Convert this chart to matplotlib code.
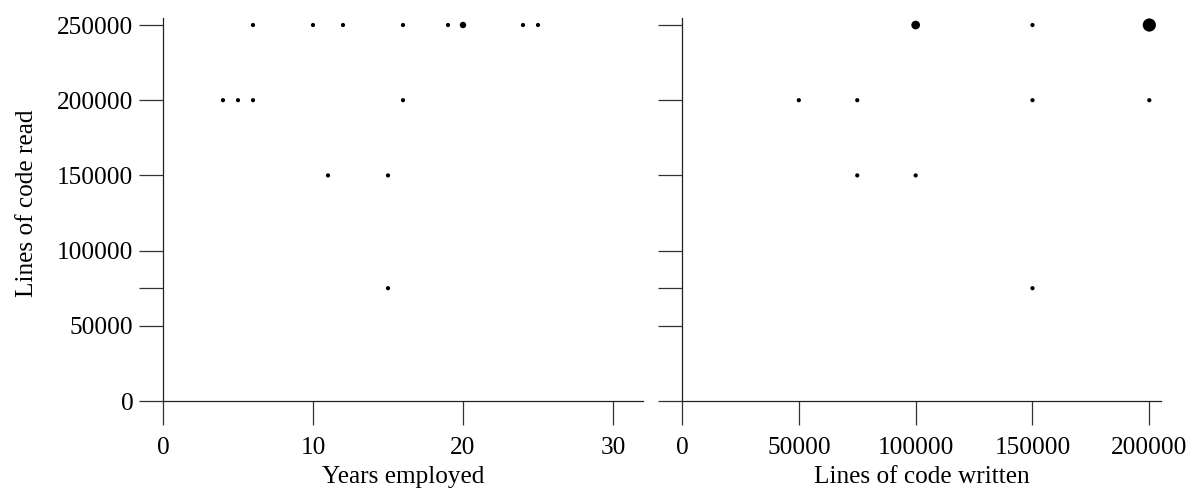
import matplotlib
matplotlib.use("Agg")
import matplotlib.pyplot as plt

plt.rcParams['font.family'] = ['Liberation Serif', 'DejaVu Serif']

# Left panel: years employed vs lines of code read (count = respondents at that point)
years_employed = [6, 10, 12, 16, 19, 20, 24, 25, 4, 5, 6, 16, 11, 15, 15]
read_left = [250000, 250000, 250000, 250000, 250000, 250000, 250000, 250000,
             200000, 200000, 200000, 200000, 150000, 150000, 75000]
count_left = [1, 1, 1, 1, 1, 2, 1, 1, 1, 1, 1, 1, 1, 1, 1]

# Right panel: lines of code written vs lines of code read
written = [100000, 150000, 200000, 50000, 75000, 150000, 200000, 75000, 100000, 150000]
read_right = [250000, 250000, 250000, 200000, 200000, 200000, 200000, 150000, 150000, 75000]
count_right = [3, 1, 5, 1, 1, 1, 1, 1, 1, 1]

y_ticks = [0, 50000, 75000, 100000, 150000, 200000, 250000]
y_ticklabels = ['0', '50000', '', '100000', '150000', '200000', '250000']
x_ticks_left = [0, 10, 20, 30]
x_ticks_right = [0, 50000, 100000, 150000, 200000]

W, H = 1192, 488
fig = plt.figure(figsize=(W / 100, H / 100), dpi=100)

def px_axes(x0, x1, ytop, ybot):
    return fig.add_axes([x0 / W, (H - ybot) / H, (x1 - x0) / W, (ybot - ytop) / H])

ax1 = px_axes(163, 643, 17.5, 401)
ax2 = px_axes(682, 1161, 17.5, 401)

def sizes(counts):
    out = []
    for c in counts:
        d_px = 4.2 + 2.25 * (c - 1)
        out.append((d_px * 0.72) ** 2)
    return out

FS = 18.2
for ax in (ax1, ax2):
    ax.spines['top'].set_visible(False)
    ax.spines['right'].set_visible(False)
    for s in ('left', 'bottom'):
        ax.spines[s].set_linewidth(0.9)
        ax.spines[s].set_color('#222222')
    ax.tick_params(direction='out', length=17.3, width=0.9, color='#333333',
                   labelsize=FS)
    ax.tick_params(axis='x', pad=8.5)
    ax.tick_params(axis='y', pad=4.0)
    ax.set_ylim(0, 255000)
    ax.set_yticks(y_ticks)

ax1.scatter(years_employed, read_left, s=sizes(count_left), c='black', linewidths=0, zorder=3)
ax1.set_xlim(0, 32)
ax1.set_xticks(x_ticks_left)
ax1.set_yticklabels(y_ticklabels)
ax1.set_xlabel('Years employed', fontsize=FS, labelpad=5)
ax1.set_ylabel('Lines of code read', fontsize=FS)
ax1.yaxis.set_label_coords(38 / W, (H - 203) / H, transform=fig.transFigure)

ax2.scatter(written, read_right, s=sizes(count_right), c='black', linewidths=0, zorder=3)
ax2.set_xlim(0, 205000)
ax2.set_xticks(x_ticks_right)
ax2.set_xticklabels([str(v) for v in x_ticks_right])
ax2.set_yticklabels([])
ax2.set_xlabel('Lines of code written', fontsize=FS, labelpad=5)

for ax in (ax1, ax2):
    for lab in ax.get_xticklabels() + ax.get_yticklabels():
        lab.set_clip_on(False)

fig.savefig('out.png', dpi=100)
